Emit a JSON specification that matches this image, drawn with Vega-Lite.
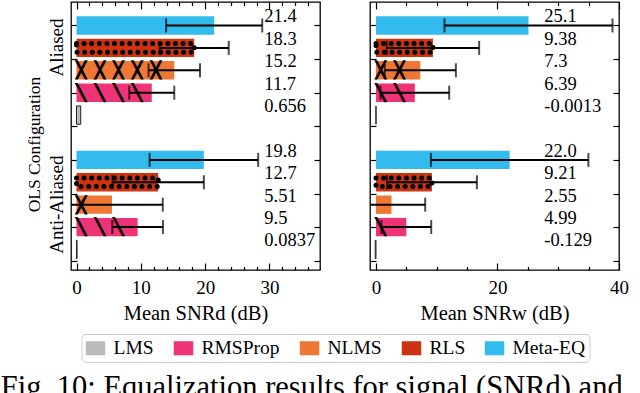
{
  "$schema": "https://vega.github.io/schema/vega-lite/v6.json",
  "padding": {"left": 0, "top": 0, "right": 5, "bottom": 0},
  "datasets": {
    "main": [
      {"metric": "d", "config": "Aliased", "method": "Meta-EQ", "mean": 21.4, "err": 7.47, "label": "21.4"},
      {"metric": "d", "config": "Aliased", "method": "RLS", "mean": 18.3, "err": 5.36, "label": "18.3"},
      {"metric": "d", "config": "Aliased", "method": "NLMS", "mean": 15.2, "err": 4.0, "label": "15.2"},
      {"metric": "d", "config": "Aliased", "method": "RMSProp", "mean": 11.7, "err": 3.5, "label": "11.7"},
      {"metric": "d", "config": "Aliased", "method": "LMS", "mean": 0.656, "err": null, "label": "0.656"},
      {"metric": "d", "config": "Anti-Aliased", "method": "Meta-EQ", "mean": 19.8, "err": 8.44, "label": "19.8"},
      {"metric": "d", "config": "Anti-Aliased", "method": "RLS", "mean": 12.7, "err": 7.1, "label": "12.7"},
      {"metric": "d", "config": "Anti-Aliased", "method": "NLMS", "mean": 5.51, "err": 7.9, "label": "5.51"},
      {"metric": "d", "config": "Anti-Aliased", "method": "RMSProp", "mean": 9.5, "err": 3.94, "label": "9.5"},
      {"metric": "d", "config": "Anti-Aliased", "method": "LMS", "mean": 0.0837, "err": null, "label": "0.0837"},
      {"metric": "w", "config": "Aliased", "method": "Meta-EQ", "mean": 25.1, "err": 13.83, "label": "25.1"},
      {"metric": "w", "config": "Aliased", "method": "RLS", "mean": 9.38, "err": 7.6, "label": "9.38"},
      {"metric": "w", "config": "Aliased", "method": "NLMS", "mean": 7.3, "err": 5.85, "label": "7.3"},
      {"metric": "w", "config": "Aliased", "method": "RMSProp", "mean": 6.39, "err": 5.66, "label": "6.39"},
      {"metric": "w", "config": "Aliased", "method": "LMS", "mean": -0.0013, "err": null, "label": "-0.0013"},
      {"metric": "w", "config": "Anti-Aliased", "method": "Meta-EQ", "mean": 22.0, "err": 12.96, "label": "22.0"},
      {"metric": "w", "config": "Anti-Aliased", "method": "RLS", "mean": 9.21, "err": 7.4, "label": "9.21"},
      {"metric": "w", "config": "Anti-Aliased", "method": "NLMS", "mean": 2.55, "err": 5.55, "label": "2.55"},
      {"metric": "w", "config": "Anti-Aliased", "method": "RMSProp", "mean": 4.99, "err": 4.1, "label": "4.99"},
      {"metric": "w", "config": "Anti-Aliased", "method": "LMS", "mean": -0.129, "err": null, "label": "-0.129"}
    ]
  },
  "title": {
    "text": "Fig. 10:  Equalization results for signal (SNRd) and",
    "orient": "bottom", "anchor": "start", "frame": "bounds",
    "fontSize": 30.5, "font": "Liberation Serif", "fontWeight": "normal", "color": "black", "offset": 10, "dx": -24
  },
  "hconcat": [
    {
      "width": 249, "height": 268,
      "layer": [
        {
          "data": {"name": "main"},
          "transform": [{"filter": "datum.metric == 'd'"}],
          "encoding": {
            "y": {"field": "config", "type": "nominal", "sort": ["Aliased", "Anti-Aliased"],
                  "scale": {"paddingInner": 0.16667, "paddingOuter": 0.0804, "align": 0.569},
                  "axis": {"title": "OLS Configuration", "ticks": false, "domain": false, "labelAngle": 270,
                           "labelAlign": "center", "labelBaseline": "alphabetic", "labelPadding": 8.5, "labelFontSize": 19,
                           "labelOffset": {"condition": {"test": "datum.value == 'Aliased'", "value": -22.8}, "value": 0},
                           "titleFontSize": 17.5, "titlePadding": 4, "titleY": 142}},
            "yOffset": {"field": "method", "type": "nominal", "sort": ["Meta-EQ", "RLS", "NLMS", "RMSProp", "LMS"],
                        "scale": {"paddingInner": 0.18, "paddingOuter": 0.09}}
          },
          "layer": [
            {
              "mark": {"type": "bar"},
              "encoding": {
                "x": {"field": "mean", "type": "quantitative", "scale": {"domain": [-0.855, 37.85], "nice": false, "zero": false},
                      "axis": {"title": "Mean SNRd (dB)", "values": [0, 10, 20, 30], "ticks": false, "domain": false, "grid": false, "labelFlush": false,
                               "labelFontSize": 19, "labelPadding": 8, "titleFontSize": 20.5, "titlePadding": 6}},
                "color": {"field": "method", "type": "nominal",
                          "scale": {"domain": ["LMS", "RMSProp", "NLMS", "RLS", "Meta-EQ"], "range": ["#BBBBBB", "#EE3377", "#EE7733", "#CC3311", "#33BBEE"]},
                          "legend": {"orient": "none", "legendX": 10.5, "legendY": 332, "direction": "horizontal", "title": null,
                                     "symbolType": "M-1,-0.72H1V0.72H-1Z", "symbolSize": 380, "symbolStrokeWidth": 0,
                                     "labelFontSize": 19.5, "labelOffset": 8, "columnPadding": 19, "padding": 4,
                                     "strokeColor": "#cccccc", "cornerRadius": 4}},
                "stroke": {"condition": {"test": "datum.method == 'LMS'", "value": "#222222"}, "value": null}
              }
            },
            {
              "transform": [{"filter": "datum.method == 'RMSProp'"}],
              "mark": {"type": "text", "align": "left", "baseline": "middle", "font": "DejaVu Sans Mono", "fontSize": 15.5,
                       "color": "black", "stroke": "black", "strokeWidth": 1.3, "ellipsis": " ", "limit": {"expr": "max(0.5, datum.mean * 6.433)"}},
              "encoding": {"x": {"datum": 0, "type": "quantitative", "scale": {"domain": [-0.855, 37.85], "nice": false, "zero": false}},
                           "text": {"value": "╲ ╲ ╲ ╲ ╲ ╲ ╲ ╲ ╲ ╲ ╲ ╲ ╲ ╲ ╲ ╲"}}
            },
            {
              "transform": [{"filter": "datum.method == 'NLMS'"}],
              "mark": {"type": "text", "align": "left", "baseline": "middle", "font": "DejaVu Sans Mono", "fontSize": 15.5,
                       "color": "black", "stroke": "black", "strokeWidth": 1.3, "ellipsis": " ", "limit": {"expr": "max(0.5, datum.mean * 6.433)"}},
              "encoding": {"x": {"datum": 0, "type": "quantitative", "scale": {"domain": [-0.855, 37.85], "nice": false, "zero": false}},
                           "text": {"value": "╳ ╳ ╳ ╳ ╳ ╳ ╳ ╳ ╳ ╳ ╳ ╳ ╳ ╳ ╳ ╳"}}
            },
            {
              "transform": [{"filter": "datum.method == 'RLS'"}],
              "mark": {"type": "bar", "size": 8.6, "fill": "transparent", "stroke": "black", "strokeWidth": 5,
                       "strokeDash": [0.01, 7.6], "strokeCap": "round"},
              "encoding": {"x": {"field": "mean", "type": "quantitative", "scale": {"domain": [-0.855, 37.85], "nice": false, "zero": false}}}
            },
            {
              "transform": [{"filter": "isValid(datum.err)"}, {"calculate": "datum.mean - datum.err", "as": "lo"}, {"calculate": "datum.mean + datum.err", "as": "hi"}],
              "layer": [
                {"mark": {"type": "rule", "color": "black", "strokeWidth": 2, "clip": true},
                 "encoding": {"x": {"field": "lo", "type": "quantitative", "scale": {"domain": [-0.855, 37.85], "nice": false, "zero": false}}, "x2": {"field": "hi"}}},
                {"mark": {"type": "tick", "color": "black", "thickness": 2, "size": 14, "orient": "vertical", "clip": true},
                 "encoding": {"x": {"field": "lo", "type": "quantitative", "scale": {"domain": [-0.855, 37.85], "nice": false, "zero": false}}}},
                {"mark": {"type": "tick", "color": "black", "thickness": 2, "size": 14, "orient": "vertical", "clip": true},
                 "encoding": {"x": {"field": "hi", "type": "quantitative", "scale": {"domain": [-0.855, 37.85], "nice": false, "zero": false}}}}
              ]
            },
            {
              "mark": {"type": "text", "align": "left", "baseline": "alphabetic", "dy": -3, "fontSize": 18.5, "color": "black"},
              "encoding": {"x": {"datum": 29.2, "type": "quantitative", "scale": {"domain": [-0.855, 37.85], "nice": false, "zero": false}},
                           "text": {"field": "label"}}
            }
          ]
        },
        {
          "data": {"values": [{}]},
          "mark": {"type": "point", "opacity": 0},
          "encoding": {
            "x": {"datum": 0, "type": "quantitative", "scale": {"domain": [-0.855, 37.85], "nice": false, "zero": false},
                  "axis": {"orient": "bottom", "values": [0, 2, 4, 6, 8, 10, 12, 14, 16, 18, 20, 22, 24, 26, 28, 30, 32, 34, 36], "labels": false, "domain": false, "grid": false, "title": null,
                           "tickColor": "black", "tickWidth": 1.2, "tickSize": {"condition": {"test": "datum.value % 10 === 0", "value": -7}, "value": -3.5}}},
            "y": {"datum": 0, "type": "quantitative", "scale": {"domain": [-1.049, 10.915], "reverse": true, "nice": false, "zero": false},
                  "axis": {"orient": "left", "values": [0, 1.5, 3, 4.5, 6, 7.5, 9, 10.5], "labels": false, "domain": false, "grid": false, "title": null,
                           "tickColor": "black", "tickWidth": 1.2, "tickSize": -6}}
          }
        },
        {
          "data": {"values": [{}]},
          "mark": {"type": "point", "opacity": 0},
          "encoding": {
            "x": {"datum": 0, "type": "quantitative", "scale": {"domain": [-0.855, 37.85], "nice": false, "zero": false},
                  "axis": {"orient": "top", "values": [0, 2, 4, 6, 8, 10, 12, 14, 16, 18, 20, 22, 24, 26, 28, 30, 32, 34, 36], "labels": false, "domain": false, "grid": false, "title": null,
                           "tickColor": "black", "tickWidth": 1.2, "tickSize": {"condition": {"test": "datum.value % 10 === 0", "value": -7}, "value": -3.5}}},
            "y": {"datum": 0, "type": "quantitative", "scale": {"domain": [-1.049, 10.915], "reverse": true, "nice": false, "zero": false},
                  "axis": {"orient": "right", "values": [0, 1.5, 3, 4.5, 6, 7.5, 9, 10.5], "labels": false, "domain": false, "grid": false, "title": null,
                           "tickColor": "black", "tickWidth": 1.2, "tickSize": -6}}
          }
        }
      ],
      "resolve": {"scale": {"x": "independent", "y": "independent"}}
    },
    {
      "width": 249, "height": 268,
      "layer": [
        {
          "data": {"name": "main"},
          "transform": [{"filter": "datum.metric == 'w'"}],
          "encoding": {
            "y": {"field": "config", "type": "nominal", "sort": ["Aliased", "Anti-Aliased"],
                  "scale": {"paddingInner": 0.16667, "paddingOuter": 0.0804, "align": 0.569}, "axis": null},
            "yOffset": {"field": "method", "type": "nominal", "sort": ["Meta-EQ", "RLS", "NLMS", "RMSProp", "LMS"],
                        "scale": {"paddingInner": 0.18, "paddingOuter": 0.09}}
          },
          "layer": [
            {
              "mark": {"type": "bar"},
              "encoding": {
                "x": {"field": "mean", "type": "quantitative", "scale": {"domain": [-0.986, 40], "nice": false, "zero": false},
                      "axis": {"title": "Mean SNRw (dB)", "values": [0, 20, 40], "ticks": false, "domain": false, "grid": false, "labelFlush": false,
                               "labelFontSize": 19, "labelPadding": 8, "titleFontSize": 20.5, "titlePadding": 6}},
                "color": {"field": "method", "type": "nominal",
                          "scale": {"domain": ["LMS", "RMSProp", "NLMS", "RLS", "Meta-EQ"], "range": ["#BBBBBB", "#EE3377", "#EE7733", "#CC3311", "#33BBEE"]},
                          "legend": null},
                "stroke": {"condition": {"test": "datum.method == 'LMS'", "value": "#222222"}, "value": null}
              }
            },
            {
              "transform": [{"filter": "datum.method == 'RMSProp'"}],
              "mark": {"type": "text", "align": "left", "baseline": "middle", "font": "DejaVu Sans Mono", "fontSize": 15.5,
                       "color": "black", "stroke": "black", "strokeWidth": 1.3, "ellipsis": " ", "limit": {"expr": "max(0.5, datum.mean * 6.075)"}},
              "encoding": {"x": {"datum": 0, "type": "quantitative", "scale": {"domain": [-0.986, 40], "nice": false, "zero": false}},
                           "text": {"value": "╲ ╲ ╲ ╲ ╲ ╲ ╲ ╲ ╲ ╲ ╲ ╲ ╲ ╲ ╲ ╲"}}
            },
            {
              "transform": [{"filter": "datum.method == 'NLMS'"}],
              "mark": {"type": "text", "align": "left", "baseline": "middle", "font": "DejaVu Sans Mono", "fontSize": 15.5,
                       "color": "black", "stroke": "black", "strokeWidth": 1.3, "ellipsis": " ", "limit": {"expr": "max(0.5, datum.mean * 6.075)"}},
              "encoding": {"x": {"datum": 0, "type": "quantitative", "scale": {"domain": [-0.986, 40], "nice": false, "zero": false}},
                           "text": {"value": "╳ ╳ ╳ ╳ ╳ ╳ ╳ ╳ ╳ ╳ ╳ ╳ ╳ ╳ ╳ ╳"}}
            },
            {
              "transform": [{"filter": "datum.method == 'RLS'"}],
              "mark": {"type": "bar", "size": 8.6, "fill": "transparent", "stroke": "black", "strokeWidth": 5,
                       "strokeDash": [0.01, 7.6], "strokeCap": "round"},
              "encoding": {"x": {"field": "mean", "type": "quantitative", "scale": {"domain": [-0.986, 40], "nice": false, "zero": false}}}
            },
            {
              "transform": [{"filter": "isValid(datum.err)"}, {"calculate": "datum.mean - datum.err", "as": "lo"}, {"calculate": "datum.mean + datum.err", "as": "hi"}],
              "layer": [
                {"mark": {"type": "rule", "color": "black", "strokeWidth": 2, "clip": true},
                 "encoding": {"x": {"field": "lo", "type": "quantitative", "scale": {"domain": [-0.986, 40], "nice": false, "zero": false}}, "x2": {"field": "hi"}}},
                {"mark": {"type": "tick", "color": "black", "thickness": 2, "size": 14, "orient": "vertical", "clip": true},
                 "encoding": {"x": {"field": "lo", "type": "quantitative", "scale": {"domain": [-0.986, 40], "nice": false, "zero": false}}}},
                {"mark": {"type": "tick", "color": "black", "thickness": 2, "size": 14, "orient": "vertical", "clip": true},
                 "encoding": {"x": {"field": "hi", "type": "quantitative", "scale": {"domain": [-0.986, 40], "nice": false, "zero": false}}}}
              ]
            },
            {
              "mark": {"type": "text", "align": "left", "baseline": "alphabetic", "dy": -3, "fontSize": 18.5, "color": "black"},
              "encoding": {"x": {"datum": 27.7, "type": "quantitative", "scale": {"domain": [-0.986, 40], "nice": false, "zero": false}},
                           "text": {"field": "label"}}
            }
          ]
        },
        {
          "data": {"values": [{}]},
          "mark": {"type": "point", "opacity": 0},
          "encoding": {
            "x": {"datum": 0, "type": "quantitative", "scale": {"domain": [-0.986, 40], "nice": false, "zero": false},
                  "axis": {"orient": "bottom", "values": [0, 5, 10, 15, 20, 25, 30, 35, 40], "labels": false, "domain": false, "grid": false, "title": null,
                           "tickColor": "black", "tickWidth": 1.2, "tickSize": {"condition": {"test": "datum.value % 20 === 0", "value": -7}, "value": -3.5}}},
            "y": {"datum": 0, "type": "quantitative", "scale": {"domain": [-1.049, 10.915], "reverse": true, "nice": false, "zero": false},
                  "axis": {"orient": "left", "values": [0, 1.5, 3, 4.5, 6, 7.5, 9, 10.5], "labels": false, "domain": false, "grid": false, "title": null,
                           "tickColor": "black", "tickWidth": 1.2, "tickSize": -6}}
          }
        },
        {
          "data": {"values": [{}]},
          "mark": {"type": "point", "opacity": 0},
          "encoding": {
            "x": {"datum": 0, "type": "quantitative", "scale": {"domain": [-0.986, 40], "nice": false, "zero": false},
                  "axis": {"orient": "top", "values": [0, 5, 10, 15, 20, 25, 30, 35, 40], "labels": false, "domain": false, "grid": false, "title": null,
                           "tickColor": "black", "tickWidth": 1.2, "tickSize": {"condition": {"test": "datum.value % 20 === 0", "value": -7}, "value": -3.5}}},
            "y": {"datum": 0, "type": "quantitative", "scale": {"domain": [-1.049, 10.915], "reverse": true, "nice": false, "zero": false},
                  "axis": {"orient": "right", "values": [0, 1.5, 3, 4.5, 6, 7.5, 9, 10.5], "labels": false, "domain": false, "grid": false, "title": null,
                           "tickColor": "black", "tickWidth": 1.2, "tickSize": -6}}
          }
        }
      ],
      "resolve": {"scale": {"x": "independent", "y": "independent"}}
    }
  ],
  "spacing": 46,
  "config": {
    "font": "Liberation Serif",
    "view": {"stroke": "black", "strokeWidth": 1.3},
    "axis": {"labelColor": "black", "titleColor": "black", "titleFontWeight": "normal", "labelFont": "Liberation Serif", "titleFont": "Liberation Serif"},
    "legend": {"labelColor": "black", "labelFont": "Liberation Serif"}
  }
}
